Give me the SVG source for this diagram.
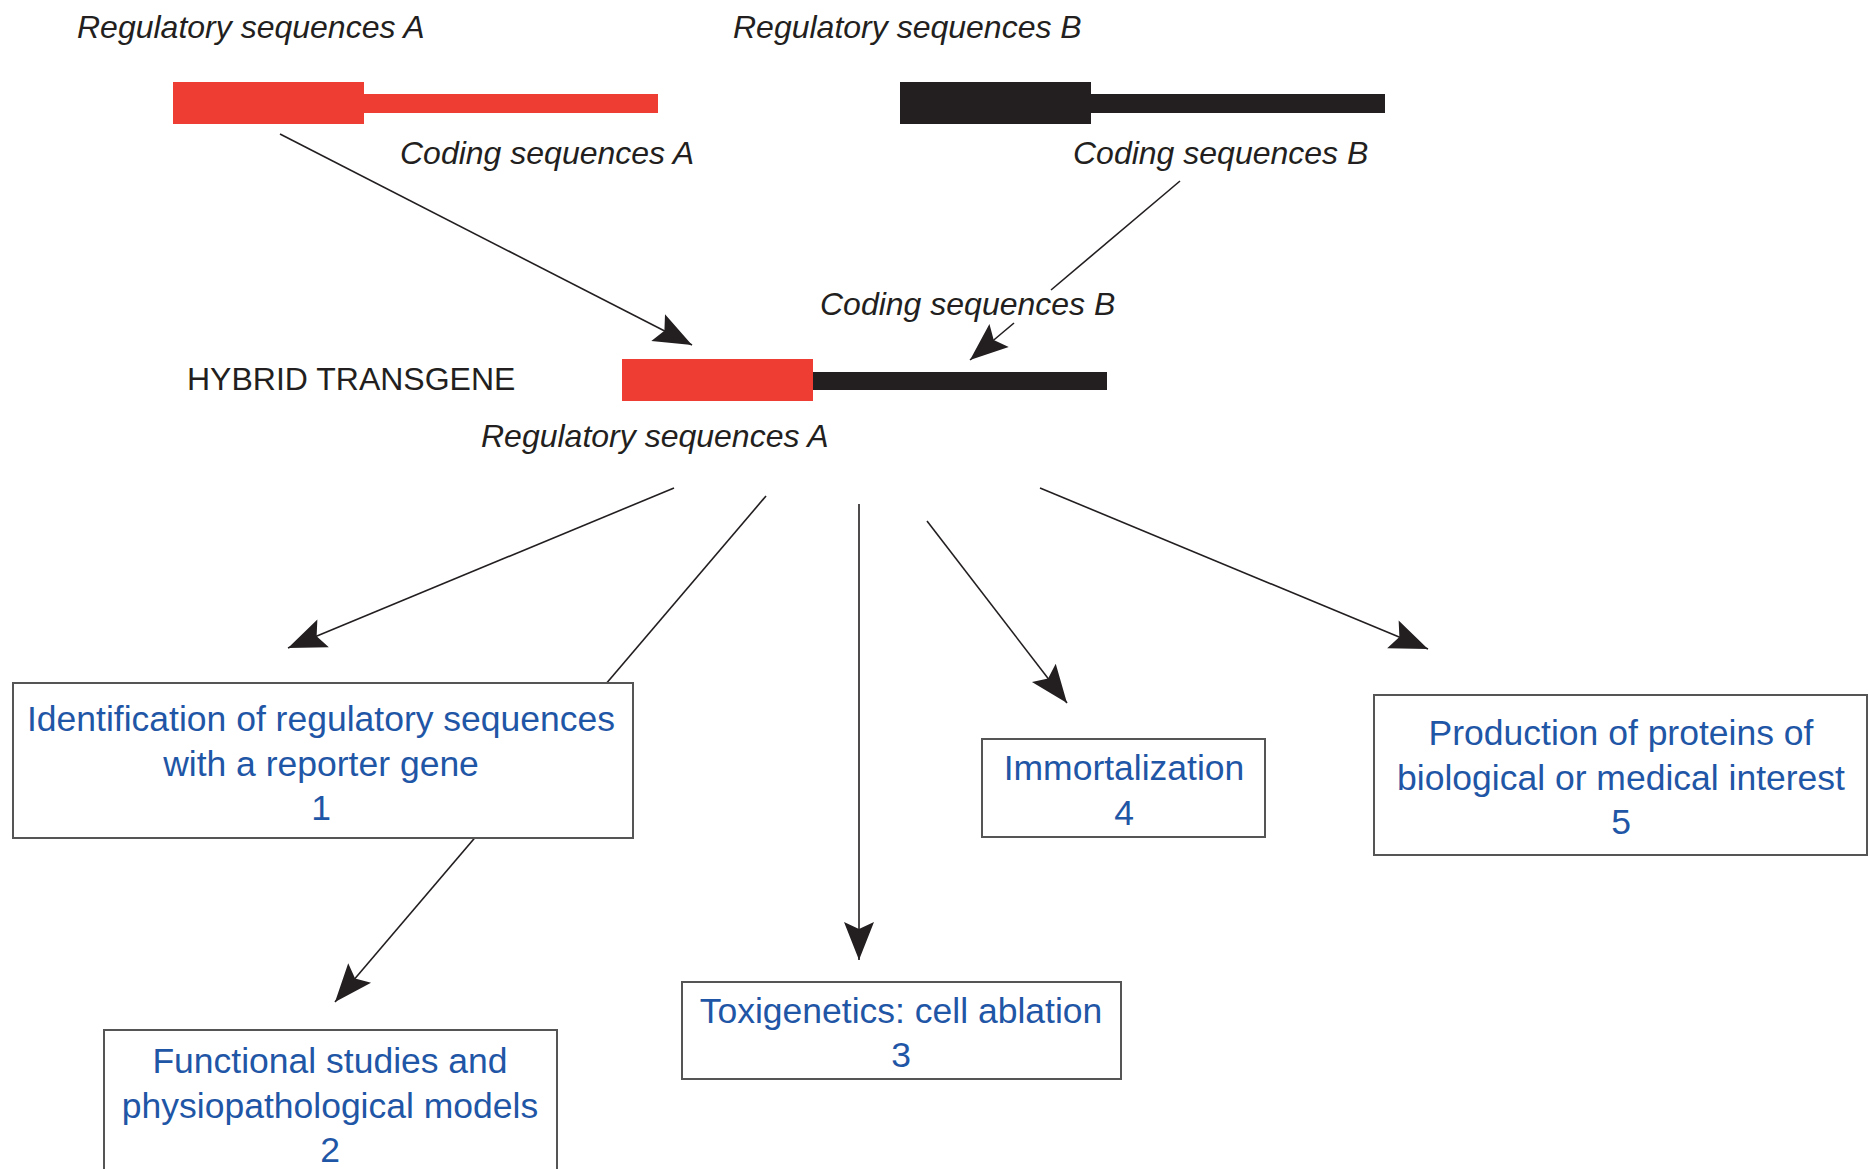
<svg xmlns="http://www.w3.org/2000/svg" width="1869" height="1169" viewBox="0 0 1869 1169">
<style>
.lbl{font-family:"Liberation Sans",Arial,sans-serif;font-style:italic;font-size:32px;fill:#231f20}
.hdr{font-family:"Liberation Sans",Arial,sans-serif;font-size:32px;fill:#231f20}
.box{fill:#fff;stroke:#555;stroke-width:2}
.bt{font-family:"Liberation Sans",Arial,sans-serif;font-size:35.5px;fill:#1f56a6;text-anchor:middle}
.ln{stroke:#231f20;stroke-width:1.6;fill:none}
.red{fill:#ee3e34}
.blk{fill:#231f20}
</style>
<defs>
<marker id="ah" markerUnits="userSpaceOnUse" orient="auto" viewBox="-40 -17 42 34" markerWidth="42" markerHeight="34" refX="0" refY="0">
<path d="M0,0 L-38,-15 L-31,0 L-38,15 Z" fill="#231f20"/>
</marker>
</defs>
<rect width="1869" height="1169" fill="#fff"/>

<g id="gene-a">
<rect class="red" x="173" y="82" width="191" height="42"/>
<rect class="red" x="364" y="94" width="294" height="19"/>
<text class="lbl" x="77" y="38">Regulatory sequences A</text>
<text class="lbl" x="400" y="164">Coding sequences A</text>
</g>

<g id="gene-b">
<rect class="blk" x="900" y="82" width="191" height="42"/>
<rect class="blk" x="1091" y="94" width="294" height="19"/>
<text class="lbl" x="733" y="38">Regulatory sequences B</text>
<text class="lbl" x="1073" y="164">Coding sequences B</text>
</g>

<g id="hybrid">
<text class="hdr" x="187" y="390">HYBRID TRANSGENE</text>
<rect class="red" x="622" y="359" width="191" height="42"/>
<rect class="blk" x="813" y="372" width="294" height="18"/>
<text class="lbl" x="820" y="315">Coding sequences B</text>
<text class="lbl" x="481" y="447">Regulatory sequences A</text>
</g>

<g id="connectors">
<line class="ln" x1="280" y1="134" x2="692" y2="345" marker-end="url(#ah)"/>
<line class="ln" x1="1180" y1="181" x2="1051" y2="290"/>
<line class="ln" x1="1014" y1="323" x2="970" y2="360" marker-end="url(#ah)"/>
<line class="ln" x1="674" y1="488" x2="288" y2="648" marker-end="url(#ah)"/>
<line class="ln" x1="766" y1="496" x2="335" y2="1002" marker-end="url(#ah)"/>
<line class="ln" x1="859" y1="504" x2="859" y2="960" marker-end="url(#ah)"/>
<line class="ln" x1="927" y1="521" x2="1067" y2="703" marker-end="url(#ah)"/>
<line class="ln" x1="1040" y1="488" x2="1428" y2="649" marker-end="url(#ah)"/>
</g>

<g id="box1">
<rect class="box" x="13" y="683" width="620" height="155"/>
<text class="bt" x="321" y="731">Identification of regulatory sequences</text>
<text class="bt" x="321" y="776">with a reporter gene</text>
<text class="bt" x="321" y="820">1</text>
</g>

<g id="box2">
<rect class="box" x="104" y="1030" width="453" height="150"/>
<text class="bt" x="330" y="1073">Functional studies and</text>
<text class="bt" x="330" y="1118">physiopathological models</text>
<text class="bt" x="330" y="1162">2</text>
</g>

<g id="box3">
<rect class="box" x="682" y="982" width="439" height="97"/>
<text class="bt" x="901" y="1023">Toxigenetics: cell ablation</text>
<text class="bt" x="901" y="1067">3</text>
</g>

<g id="box4">
<rect class="box" x="982" y="739" width="283" height="98"/>
<text class="bt" x="1124" y="780">Immortalization</text>
<text class="bt" x="1124" y="825">4</text>
</g>

<g id="box5">
<rect class="box" x="1374" y="695" width="493" height="160"/>
<text class="bt" x="1621" y="745">Production of proteins of</text>
<text class="bt" x="1621" y="790">biological or medical interest</text>
<text class="bt" x="1621" y="834">5</text>
</g>
</svg>
